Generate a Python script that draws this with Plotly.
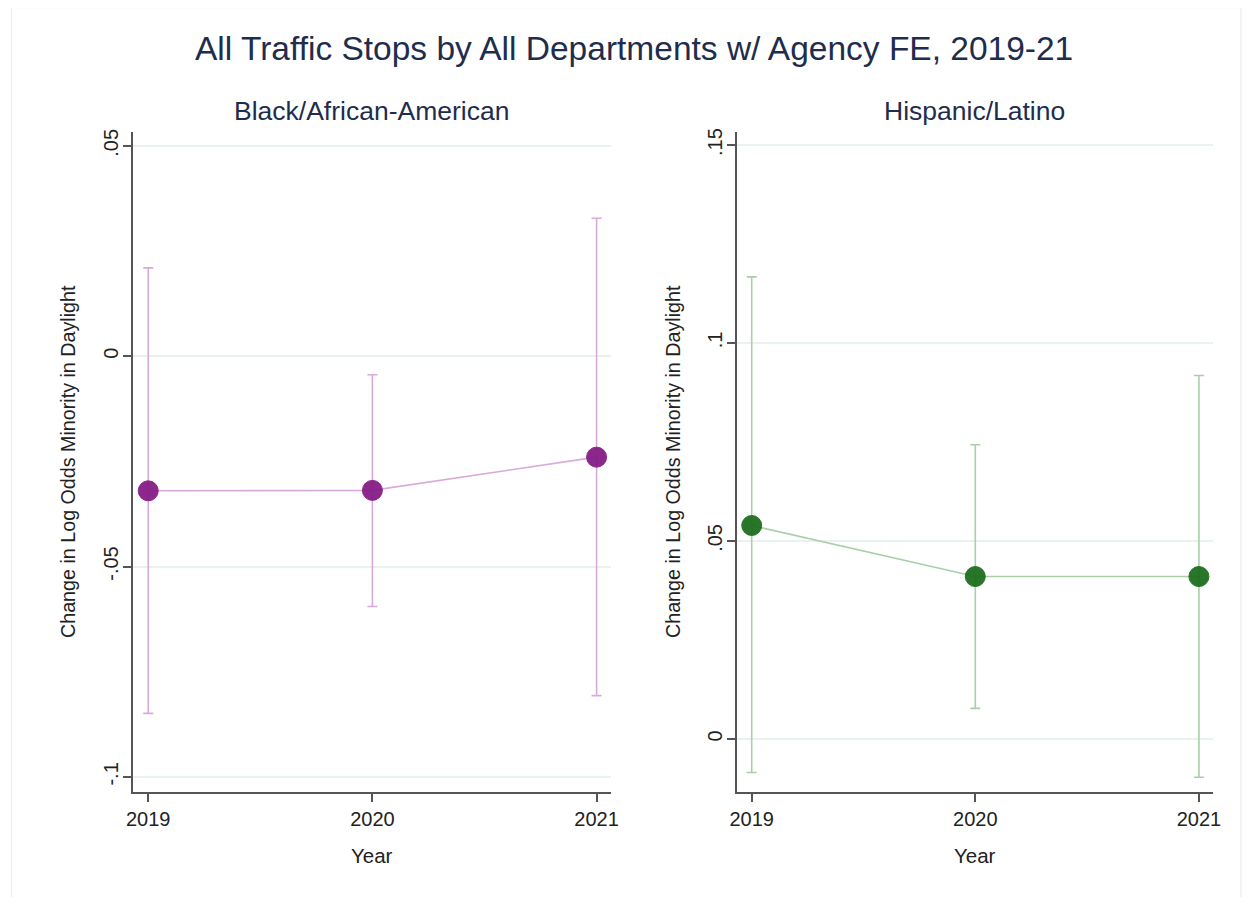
import plotly.graph_objects as go

# ---- data ----
years = [2019, 2020, 2021]
year_labels = ["2019", "2020", "2021"]

black_coef = [-0.0320, -0.0319, -0.0240]
black_lo = [-0.0849, -0.0595, -0.0807]
black_hi = [0.0210, -0.0044, 0.0328]

hisp_coef = [0.0539, 0.0410, 0.0410]
hisp_lo = [-0.0085, 0.0077, -0.0097]
hisp_hi = [0.1167, 0.0743, 0.0918]

black_ticks = [-0.1, -0.05, 0, 0.05]
black_ticktext = ["-.1", "-.05", "0", ".05"]
hisp_ticks = [0, 0.05, 0.1, 0.15]
hisp_ticktext = ["0", ".05", ".1", ".15"]

title_text = "All Traffic Stops by All Departments w/ Agency FE, 2019-21"
panel_titles = ["Black/African-American", "Hispanic/Latino"]
ytitle = "Change in Log Odds Minority in Daylight"
xtitle = "Year"

# ---- styling ----
OFF = 8  # default body margin of the html page
W, H = 1252 - 2 * OFF, 909 - 2 * OFF - 4
FONT = "Liberation Sans, Arial, sans-serif"
purple_dark = "#861c86"
purple_light = "#d9a9d9"
green_dark = "#1e6e1e"
green_light = "#a8cfa8"
grid_col = "#e9f1f1"
axis_col = "#555555"
txt_col = "#222222"
title_col = "#1f2d4d"


def px_x(v):
    return (v - OFF) / W


def px_y(v):
    return 1 - (v - OFF) / H


def trace(coef, lo, hi, dark, light, xa, ya):
    plus = [h - c for h, c in zip(hi, coef)]
    minus = [c - l for c, l in zip(coef, lo)]
    return go.Scatter(
        x=years, y=coef, mode="lines+markers",
        line=dict(color=light, width=1.6),
        marker=dict(color=dark, size=20, line=dict(color=dark, width=1), opacity=0.95),
        error_y=dict(type="data", array=plus, arrayminus=minus, visible=True,
                     color=light, thickness=1.6, width=5),
        xaxis=xa, yaxis=ya, showlegend=False, hoverinfo="x+y",
    )


fig = go.Figure()
fig.add_trace(trace(black_coef, black_lo, black_hi, purple_dark, purple_light, "x", "y"))
fig.add_trace(trace(hisp_coef, hisp_lo, hisp_hi, green_dark, green_light, "x2", "y2"))

xcommon = dict(
    tickmode="array", tickvals=years, ticktext=year_labels,
    range=[2018.932, 2021.063], showgrid=False, zeroline=False, automargin=False,
    showline=True, linecolor=axis_col, linewidth=1.6,
    ticks="outside", ticklen=8, tickwidth=1.6, tickcolor=axis_col,
    tickfont=dict(family=FONT, size=20, color=txt_col),
)
ycommon = dict(
    tickmode="array", showgrid=True, gridcolor=grid_col, gridwidth=1.6,
    zeroline=False, showline=True, linecolor=axis_col, linewidth=1.6, automargin=False,
    ticks="outside", ticklen=8, tickwidth=1.6, tickcolor=axis_col,
    tickangle=-90, ticklabelstandoff=-3,
    tickfont=dict(family=FONT, size=20, color=txt_col),
)

ydom = [px_y(792), px_y(132)]
fig.update_layout(
    width=W, height=H,
    margin=dict(l=0, r=0, t=0, b=0, pad=0, autoexpand=False),
    paper_bgcolor="white", plot_bgcolor="white",
    font=dict(family=FONT, color=txt_col),
    xaxis=dict(domain=[px_x(133), px_x(610.7)], anchor="y", **xcommon),
    xaxis2=dict(domain=[px_x(736.5), px_x(1213)], anchor="y2", **xcommon),
    yaxis=dict(domain=ydom, anchor="x", range=[-0.1036, 0.0533],
               tickvals=black_ticks, ticktext=black_ticktext, **ycommon),
    yaxis2=dict(domain=ydom, anchor="x2", range=[-0.01343, 0.1533],
                tickvals=hisp_ticks, ticktext=hisp_ticktext, **ycommon),
)

ann = [
    dict(text=title_text, x=px_x(633.5), y=px_y(48.5), font=dict(size=33.5, color=title_col)),
    dict(text=panel_titles[0], x=px_x(371.9), y=px_y(111), font=dict(size=26.5, color=title_col)),
    dict(text=panel_titles[1], x=px_x(974.8), y=px_y(111), font=dict(size=26.5, color=title_col)),
    dict(text=xtitle, x=px_x(371.9), y=px_y(855), font=dict(size=20.5, color=txt_col)),
    dict(text=xtitle, x=px_x(974.8), y=px_y(855), font=dict(size=20.5, color=txt_col)),
    dict(text=ytitle, x=px_x(68), y=px_y(462), textangle=-90, font=dict(size=19.7, color=txt_col)),
    dict(text=ytitle, x=px_x(673), y=px_y(462), textangle=-90, font=dict(size=19.7, color=txt_col)),
]
for a in ann:
    a.update(xref="paper", yref="paper", xanchor="center", yanchor="middle", showarrow=False)
    a["font"]["family"] = FONT
fig.update_layout(annotations=ann)

# faint outer frame (its bottom edge lies below the visible page)
bx0, bx1, byt = px_x(11.5), px_x(1241), px_y(7.5)
fig.add_shape(type="path", xref="paper", yref="paper",
              path=f"M {bx0},0 L {bx0},{byt} L {bx1},{byt} L {bx1},0",
              line=dict(color="#eef1f1", width=1.5), layer="below")

fig.write_html("out.html")
